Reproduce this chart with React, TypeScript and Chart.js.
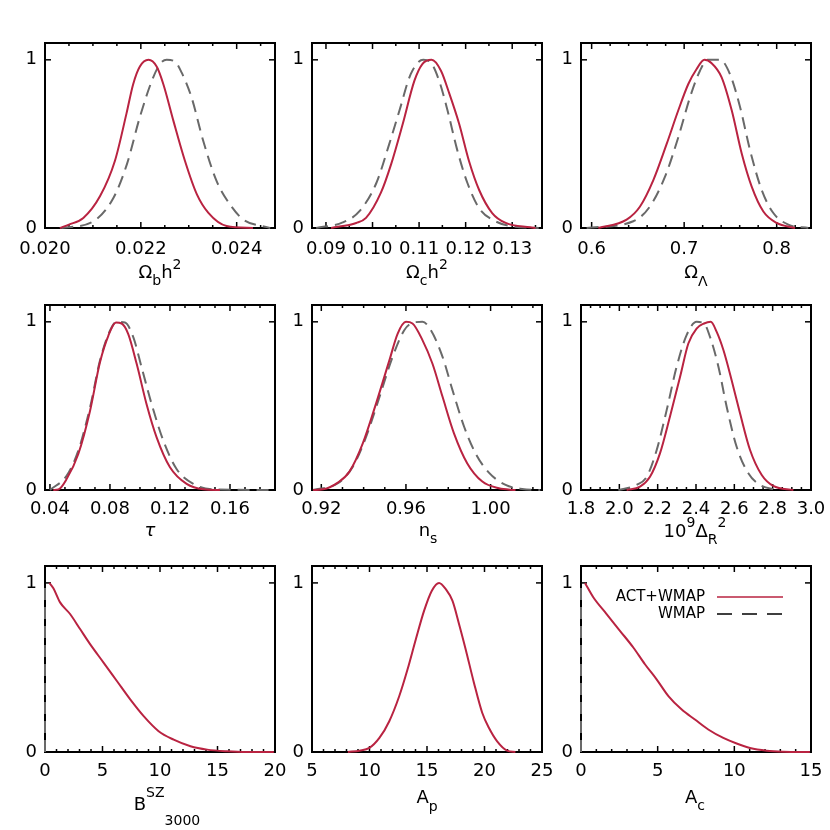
import React, { useEffect, useRef } from "react";
import { Chart, registerables } from "chart.js";

Chart.register(...registerables);

const RED = "rgb(185, 35, 65)";
const GRAY = "rgb(105, 105, 105)";
const FONT = "'DejaVu Sans', sans-serif";

// ---------------- data (x, normalised likelihood) ----------------
const omegaB_ACT = [[0.02031,0],[0.0205,0.02],[0.0208,0.06],[0.02115,0.19],[0.02146,0.40],[0.0217,0.68],[0.02184,0.855],[0.02198,0.96],[0.02216,1.0],[0.02233,0.96],[0.02247,0.855],[0.02268,0.637],[0.02292,0.40],[0.02317,0.20],[0.02341,0.09],[0.02379,0.012],[0.02434,0]];
const omegaB_WMAP = [[0.02034,0],[0.02101,0.04],[0.02143,0.18],[0.02171,0.38],[0.02198,0.66],[0.02223,0.875],[0.0224,0.975],[0.02254,1.0],[0.02271,0.99],[0.02285,0.925],[0.02306,0.775],[0.0233,0.52],[0.02358,0.28],[0.02386,0.14],[0.02414,0.05],[0.02463,0.005],[0.0247,0]];

const omegaC_ACT = [[0.0911,0],[0.0965,0.03],[0.0986,0.06],[0.1018,0.21],[0.104,0.38],[0.1065,0.62],[0.109,0.876],[0.1107,0.975],[0.1127,1.0],[0.1147,0.935],[0.1164,0.807],[0.1186,0.62],[0.1207,0.40],[0.1229,0.226],[0.1257,0.089],[0.1286,0.03],[0.1339,0.004],[0.135,0]];
const omegaC_WMAP = [[0.0879,0],[0.0936,0.033],[0.0972,0.10],[0.1008,0.266],[0.1036,0.50],[0.1058,0.70],[0.1082,0.915],[0.1109,1.0],[0.1125,0.984],[0.1143,0.876],[0.1161,0.70],[0.1182,0.463],[0.1204,0.266],[0.1229,0.118],[0.1264,0.04],[0.13,0.01],[0.1357,0]];

const omegaL_ACT = [[0.6072,0],[0.6378,0.05],[0.6523,0.128],[0.6667,0.285],[0.6811,0.5],[0.6937,0.7],[0.7045,0.856],[0.7135,0.945],[0.7218,1.0],[0.7297,0.98],[0.7405,0.896],[0.7514,0.7],[0.7622,0.443],[0.773,0.246],[0.7856,0.098],[0.8,0.03],[0.8198,0]];
const omegaL_WMAP = [[0.5946,0],[0.645,0.04],[0.663,0.128],[0.6793,0.305],[0.6937,0.54],[0.7063,0.777],[0.7171,0.935],[0.725,1.0],[0.7387,1.0],[0.7495,0.915],[0.7604,0.72],[0.7712,0.463],[0.7838,0.226],[0.7964,0.089],[0.8126,0.02],[0.8342,0]];

const tau_ACT = [[0.0422,0],[0.0456,0.003],[0.0511,0.065],[0.0589,0.214],[0.0667,0.47],[0.0733,0.758],[0.0789,0.917],[0.084,0.996],[0.0878,0.99],[0.0922,0.927],[0.0978,0.75],[0.1044,0.51],[0.1111,0.313],[0.12,0.135],[0.1311,0.036],[0.1422,0.004],[0.1533,0]];
const tau_WMAP = [[0.04,0],[0.0511,0.085],[0.0589,0.234],[0.0667,0.49],[0.0733,0.768],[0.08,0.947],[0.0844,1.0],[0.09,0.996],[0.0956,0.907],[0.1011,0.729],[0.1078,0.51],[0.1156,0.293],[0.1244,0.125],[0.1356,0.036],[0.1489,0.004],[0.19,0]];

const ns_ACT = [[0.9161,0],[0.9208,0.004],[0.9278,0.044],[0.9333,0.109],[0.9396,0.277],[0.9459,0.515],[0.9522,0.772],[0.9561,0.93],[0.96,1.0],[0.9631,0.99],[0.9678,0.891],[0.9725,0.752],[0.9773,0.554],[0.9827,0.337],[0.989,0.158],[0.9961,0.05],[1.0039,0.01],[1.0118,0]];
const ns_WMAP = [[0.9161,0],[0.9278,0.04],[0.9349,0.139],[0.9412,0.317],[0.9475,0.554],[0.9537,0.792],[0.9592,0.95],[0.9631,0.994],[0.9678,1.0],[0.9718,0.95],[0.9773,0.792],[0.982,0.594],[0.9875,0.376],[0.9929,0.218],[0.9992,0.103],[1.0071,0.03],[1.0149,0.006],[1.0235,0]];

const deltaR_ACT = [[2.038,0],[2.108,0.02],[2.16,0.079],[2.212,0.218],[2.264,0.436],[2.317,0.673],[2.36,0.871],[2.403,0.96],[2.442,0.99],[2.477,1.0],[2.508,0.94],[2.543,0.832],[2.586,0.653],[2.63,0.455],[2.682,0.238],[2.743,0.089],[2.803,0.024],[2.908,0]];
const deltaR_WMAP = [[1.995,0],[2.09,0.03],[2.143,0.079],[2.195,0.238],[2.247,0.475],[2.299,0.733],[2.351,0.921],[2.403,1.0],[2.442,0.99],[2.473,0.911],[2.517,0.733],[2.56,0.495],[2.612,0.257],[2.673,0.099],[2.734,0.03],[2.821,0]];

const bsz_ACT = [[0.38,1.0],[0.73,0.968],[1.31,0.885],[2.18,0.816],[3.05,0.727],[3.92,0.638],[5.09,0.529],[6.25,0.42],[7.41,0.311],[8.58,0.212],[9.88,0.123],[11.19,0.073],[12.65,0.034],[14.1,0.014],[15.84,0.004],[17.5,0],[19.9,0]];
const bsz_WMAP = [[0,0],[0,1]];

const ap_ACT = [[8.12,0],[9.13,0.008],[9.99,0.024],[10.86,0.083],[11.72,0.182],[12.59,0.331],[13.31,0.489],[14.03,0.667],[14.75,0.836],[15.42,0.954],[16.05,1.0],[16.63,0.964],[17.21,0.895],[17.79,0.756],[18.36,0.608],[19.08,0.41],[19.8,0.232],[20.38,0.143],[21.1,0.063],[21.97,0.008],[22.69,0]];

const ac_ACT = [[0.26,1.0],[0.8,0.915],[1.67,0.816],[2.54,0.717],[3.41,0.618],[4.17,0.519],[4.93,0.43],[5.7,0.331],[6.57,0.251],[7.43,0.192],[8.3,0.133],[9.28,0.083],[10.15,0.05],[11.02,0.024],[12.11,0.008],[13.2,0.002],[14.93,0]];
const ac_WMAP = [[0,0],[0,1]];

// ---------------- tick labels ----------------
const ticksOmegaB = [0.020, 0.022, 0.024];
const ticksOmegaC = [0.09, 0.10, 0.11, 0.12, 0.13];
const ticksOmegaL = [0.6, 0.7, 0.8];
const ticksTau = [0.04, 0.08, 0.12, 0.16];
const ticksNs = [0.92, 0.96, 1.00];
const ticksDeltaR = [1.8, 2.0, 2.2, 2.4, 2.6, 2.8, 3.0];
const ticksBsz = [0, 5, 10, 15, 20];
const ticksAp = [5, 10, 15, 20, 25];
const ticksAc = [0, 5, 10, 15];
const yTicks = [0, 1];

const legendLabels = ["ACT+WMAP", "WMAP"];

type Seg = { t: string; s: number; it?: boolean };
type Panel = {
  left: number; top: number; w: number; h: number;
  xmin: number; xmax: number; majors: number[]; minor: number; dec: number; pad: number;
  act: number[][]; wmap?: number[][]; vertical?: boolean;
  title: Seg[]; cx: number; base: number; sub: number; sup: number;
  legend?: boolean;
};

const COLS = [45, 312, 581];
const ROWS = [43, 305, 566];
const W = 230;
const H = 185;
const XH = 40; // reserved height of x-axis box
const YW = 40; // reserved width of y-axis box

const PANELS: Panel[] = [
  { left: COLS[0], top: ROWS[0], w: W, h: H, xmin: 0.020, xmax: 0.0248, majors: ticksOmegaB, minor: 0.0005, dec: 3, pad: 11,
    act: omegaB_ACT, wmap: omegaB_WMAP,
    title: [{ t: "Ω", s: 0 }, { t: "b", s: -1 }, { t: "h", s: 0 }, { t: "2", s: 1 }], cx: 160, base: 278, sub: 7, sup: -9 },
  { left: COLS[1], top: ROWS[0], w: W, h: H, xmin: 0.087, xmax: 0.1364, majors: ticksOmegaC, minor: 0.005, dec: 2, pad: 11,
    act: omegaC_ACT, wmap: omegaC_WMAP,
    title: [{ t: "Ω", s: 0 }, { t: "c", s: -1 }, { t: "h", s: 0 }, { t: "2", s: 1 }], cx: 427, base: 278, sub: 7, sup: -9 },
  { left: COLS[2], top: ROWS[0], w: W, h: H, xmin: 0.5885, xmax: 0.8371, majors: ticksOmegaL, minor: 0.02, dec: 1, pad: 11,
    act: omegaL_ACT, wmap: omegaL_WMAP,
    title: [{ t: "Ω", s: 0 }, { t: "Λ", s: -1 }], cx: 696, base: 278, sub: 8, sup: -9 },
  { left: COLS[0], top: ROWS[1], w: W, h: H, xmin: 0.0367, xmax: 0.19, majors: ticksTau, minor: 0.01, dec: 2, pad: 9,
    act: tau_ACT, wmap: tau_WMAP,
    title: [{ t: "τ", s: 0, it: true }], cx: 150, base: 536, sub: 7, sup: -9 },
  { left: COLS[1], top: ROWS[1], w: W, h: H, xmin: 0.9156, xmax: 1.0243, majors: ticksNs, minor: 0.01, dec: 2, pad: 9,
    act: ns_ACT, wmap: ns_WMAP,
    title: [{ t: "n", s: 0 }, { t: "s", s: -1 }], cx: 428, base: 536, sub: 7, sup: -9 },
  { left: COLS[2], top: ROWS[1], w: W, h: H, xmin: 1.8, xmax: 3.0, majors: ticksDeltaR, minor: 0.05, dec: 1, pad: 9,
    act: deltaR_ACT, wmap: deltaR_WMAP,
    title: [{ t: "10", s: 0 }, { t: "9", s: 1 }, { t: "Δ", s: 0 }, { t: "R", s: -1 }, { t: "2", s: 1 }], cx: 695, base: 537, sub: 7, sup: -10 },
  { left: COLS[0], top: ROWS[2], w: W, h: 186, xmin: 0, xmax: 20, majors: ticksBsz, minor: 1, dec: 0, pad: 9,
    act: bsz_ACT, wmap: bsz_WMAP, vertical: true,
    title: [{ t: "B", s: 0 }, { t: "SZ", s: 1 }, { t: "3000", s: -1 }], cx: 167, base: 810, sub: 15, sup: -13 },
  { left: COLS[1], top: ROWS[2], w: W, h: 186, xmin: 5, xmax: 25, majors: ticksAp, minor: 1, dec: 0, pad: 9,
    act: ap_ACT,
    title: [{ t: "A", s: 0 }, { t: "p", s: -1 }], cx: 427, base: 803, sub: 8, sup: -9 },
  { left: COLS[2], top: ROWS[2], w: W, h: 186, xmin: 0, xmax: 15, majors: ticksAc, minor: 1, dec: 0, pad: 9,
    act: ac_ACT, wmap: ac_WMAP, vertical: true,
    title: [{ t: "A", s: 0 }, { t: "c", s: -1 }], cx: 695, base: 803, sub: 7, sup: -9, legend: true },
];

function drawRich(ctx: CanvasRenderingContext2D, p: Panel) {
  const fontFor = (s: Seg) => `${s.it ? "italic " : ""}${s.s === 0 ? 18 : 14}px ${FONT}`;
  let total = 0;
  for (const s of p.title) {
    ctx.font = fontFor(s);
    total += ctx.measureText(s.t).width;
  }
  let x = p.cx - total / 2;
  ctx.fillStyle = "#000";
  ctx.textAlign = "left";
  ctx.textBaseline = "alphabetic";
  for (const s of p.title) {
    ctx.font = fontFor(s);
    const dy = s.s < 0 ? p.sub : s.s > 0 ? p.sup : 0;
    ctx.fillText(s.t, x, p.base + dy);
    x += ctx.measureText(s.t).width;
  }
}

function makeFramePlugin(p: Panel) {
  return {
    id: "frame",
    beforeDatasetsDraw(chart: any) {
      const { ctx, chartArea: a, scales } = chart;
      const xs = scales.x;
      const ys = scales.y;
      ctx.save();
      ctx.strokeStyle = "#000";
      ctx.lineWidth = 2;
      ctx.strokeRect(a.left, a.top, a.right - a.left, a.bottom - a.top);
      ctx.lineWidth = 1.5;
      const seg = (x1: number, y1: number, x2: number, y2: number) => {
        ctx.beginPath();
        ctx.moveTo(x1, y1);
        ctx.lineTo(x2, y2);
        ctx.stroke();
      };
      const xTick = (v: number, len: number) => {
        const px = xs.getPixelForValue(v);
        seg(px, a.bottom, px, a.bottom - len);
        seg(px, a.top, px, a.top + len);
      };
      const n0 = Math.ceil(p.xmin / p.minor - 1e-6);
      const n1 = Math.floor(p.xmax / p.minor + 1e-6);
      for (let n = n0; n <= n1; n++) {
        const v = n * p.minor;
        const isMajor = p.majors.some((m) => Math.abs(m - v) < p.minor * 1e-3);
        xTick(v, isMajor ? 6 : 3);
      }
      for (const v of yTicks) {
        const py = ys.getPixelForValue(v);
        seg(a.left, py, a.left + 6, py);
        seg(a.right, py, a.right - 6, py);
      }
      ctx.restore();
    },
    afterDraw(chart: any) {
      const ctx: CanvasRenderingContext2D = chart.ctx;
      ctx.save();
      drawRich(ctx, p);
      if (p.legend) {
        const a = chart.chartArea;
        const textRight = a.left + 124;
        const lx1 = a.left + 136;
        const lx2 = a.left + 202;
        const y1 = a.top + 31;
        const y2 = a.top + 48;
        ctx.font = `15px ${FONT}`;
        ctx.fillStyle = "#000";
        ctx.textAlign = "right";
        ctx.textBaseline = "middle";
        ctx.fillText(legendLabels[0], textRight, y1);
        ctx.fillText(legendLabels[1], textRight, y2);
        ctx.lineWidth = 1.5;
        ctx.strokeStyle = RED;
        ctx.beginPath();
        ctx.moveTo(lx1, y1);
        ctx.lineTo(lx2, y1);
        ctx.stroke();
        ctx.strokeStyle = "#000";
        ctx.setLineDash([15, 10]);
        ctx.beginPath();
        ctx.moveTo(lx1, y2);
        ctx.lineTo(lx2, y2);
        ctx.stroke();
        ctx.setLineDash([]);
      }
      ctx.restore();
    },
  };
}

function makeChart(canvas: HTMLCanvasElement, p: Panel) {
  const datasets: any[] = [
    {
      label: legendLabels[0],
      data: p.act.map(([x, y]) => ({ x, y })),
      borderColor: RED,
      borderWidth: 2,
      pointRadius: 0,
      fill: false,
      cubicInterpolationMode: "monotone",
      clip: false,
    },
  ];
  if (p.wmap) {
    datasets.push({
      label: legendLabels[1],
      data: p.wmap.map(([x, y]) => ({ x, y })),
      borderColor: GRAY,
      borderWidth: 2,
      borderDash: [12, 7],
      pointRadius: 0,
      fill: false,
      cubicInterpolationMode: p.vertical ? "default" : "monotone",
      tension: 0,
      clip: false,
    });
  }
  const tickFont = { family: FONT, size: 18 };
  return new Chart(canvas, {
    type: "line",
    data: { datasets },
    plugins: [makeFramePlugin(p)],
    options: {
      animation: false,
      responsive: false,
      maintainAspectRatio: false,
      events: [],
      layout: {
        padding: {
          left: p.left - YW,
          top: p.top,
          right: 830 - p.left - p.w,
          bottom: 830 - p.top - p.h - XH,
        },
      },
      plugins: { legend: { display: false }, tooltip: { enabled: false }, title: { display: false } },
      scales: {
        x: {
          type: "linear",
          min: p.xmin,
          max: p.xmax,
          grid: { display: false, drawTicks: false },
          border: { display: false },
          ticks: {
            autoSkip: false,
            maxRotation: 0,
            minRotation: 0,
            padding: p.pad,
            color: "#000",
            font: tickFont,
            callback: (v: any) => Number(v).toFixed(p.dec),
          },
          afterBuildTicks: (s: any) => {
            s.ticks = p.majors.map((v) => ({ value: v }));
          },
          afterFit: (s: any) => {
            s.height = XH;
            s.paddingLeft = 0;
            s.paddingRight = 0;
          },
        },
        y: {
          type: "linear",
          min: 0,
          max: 1.1,
          grid: { display: false, drawTicks: false },
          border: { display: false },
          ticks: {
            padding: 8,
            color: "#000",
            font: tickFont,
            callback: (v: any) => String(v),
          },
          afterBuildTicks: (s: any) => {
            s.ticks = yTicks.map((v) => ({ value: v }));
          },
          afterFit: (s: any) => {
            s.width = YW;
            s.paddingTop = 0;
            s.paddingBottom = 0;
          },
        },
      },
    } as any,
  });
}

export default function App() {
  const refs = useRef<(HTMLCanvasElement | null)[]>([]);
  useEffect(() => {
    const charts = PANELS.map((p, i) => makeChart(refs.current[i] as HTMLCanvasElement, p));
    return () => charts.forEach((c) => c.destroy());
  }, []);
  return (
    <div style={{ position: "absolute", left: 0, top: 0, width: 830, height: 830, background: "#fff" }}>
      {PANELS.map((_, i) => (
        <canvas
          key={i}
          ref={(el) => {
            refs.current[i] = el;
          }}
          width={830}
          height={830}
          style={{ position: "absolute", left: 0, top: 0, width: 830, height: 830 }}
        />
      ))}
    </div>
  );
}
